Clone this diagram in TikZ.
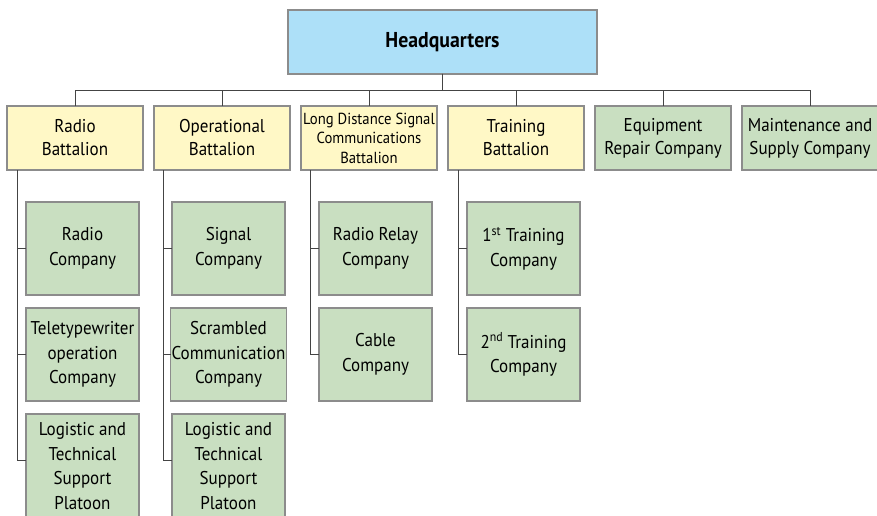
\documentclass[tikz,border=0pt]{standalone}
\usepackage{fontspec}
\setmainfont{PT Sans}[FakeStretch=0.92]
\usetikzlibrary{positioning}
\definecolor{hqblue}{HTML}{ADE0F8}
\definecolor{batyellow}{HTML}{FFF8C6}
\definecolor{coygreen}{HTML}{C9DFC1}
\definecolor{boxgray}{HTML}{8C8C8C}
\definecolor{linegray}{HTML}{444444}

\begin{document}
\begin{tikzpicture}[
  x=1pt, y=1pt,
  every node/.style={rectangle, draw=boxgray, line width=1.3pt, align=center, inner sep=1pt, outer sep=0pt,
    font=\fontsize{18.5}{23}\selectfont},
  hqbox/.style={fill=hqblue, minimum width=309pt, minimum height=64pt, font=\fontsize{21.5}{24}\selectfont\bfseries},
  battalion/.style={fill=batyellow, minimum width=136pt, minimum height=64pt},
  unit/.style={fill=coygreen, minimum width=136pt, minimum height=64pt},
  company/.style={fill=coygreen, minimum width=113pt, minimum height=93pt, font=\fontsize{18.5}{24.5}\selectfont},
  platoon/.style={company, minimum height=104pt},
  link/.style={draw=linegray, line width=0.8pt}
]

\useasboundingbox (0,0) rectangle (877,-516);
\clip (0,0) rectangle (877,-516);

% Headquarters
\node[hqbox] (hq) at (442.5,-42) {Headquarters};

% Battalions and companies under HQ
\node[battalion] (radio) at (75,-138) {Radio\\Battalion};
\node[battalion, right=11pt of radio] (operational) {Operational\\Battalion};
\node[battalion, right=11pt of operational, font=\fontsize{16}{19.5}\selectfont] (longdistance) {Long Distance Signal\\Communications\\Battalion};
\node[battalion, right=11pt of longdistance] (training) {Training\\Battalion};
\node[unit, right=11pt of training] (repair) {Equipment\\Repair Company};
\node[unit, right=11pt of repair] (maintenance) {Maintenance and\\Supply Company};

% Radio Battalion companies
\node[company, below right=32pt and 19pt of radio.south west] (radiocoy) {Radio\\Company};
\node[company, below=13pt of radiocoy] (teletype) {Teletypewriter\\operation\\Company};
\node[platoon, below=13pt of teletype, anchor=north] (radiolog) {Logistic and\\Technical\\Support\\Platoon};

% Operational Battalion companies
\node[company, below right=32pt and 18pt of operational.south west] (signal) {Signal\\Company};
\node[company, below=13pt of signal] (scrambled) {Scrambled\\Communication\\Company};
\node[platoon, below=13pt of scrambled, anchor=north] (oplog) {Logistic and\\Technical\\Support\\Platoon};

% Long Distance Signal Communications Battalion companies
\node[company, below right=32pt and 18pt of longdistance.south west] (relay) {Radio Relay\\Company};
\node[company, below=13pt of relay] (cable) {Cable\\Company};

% Training Battalion companies
\node[company, below right=32pt and 19pt of training.south west] (firsttr) {1\textsuperscript{st} Training\\Company};
\node[company, below=13pt of firsttr] (secondtr) {2\textsuperscript{nd} Training\\Company};

% HQ bus
\coordinate (bus) at ([yshift=-16pt]hq.south);
\foreach \b in {radio, operational, longdistance, training, repair, maintenance}
  \draw[link] (hq.south) -- (bus) -| (\b.north);

% Battalion trunks
\coordinate (radio-t) at ([xshift=10pt]radio.south west);
\coordinate (operational-t) at ([xshift=9pt]operational.south west);
\coordinate (longdistance-t) at ([xshift=9pt]longdistance.south west);
\coordinate (training-t) at ([xshift=10pt]training.south west);

\foreach \t/\c in {radio/radiocoy, radio/teletype, operational/signal, operational/scrambled,
                   longdistance/relay, longdistance/cable, training/firsttr, training/secondtr}
  \draw[link] (\t-t) |- (\c.west);
\draw[link] (radio-t) |- ([yshift=6pt]radiolog.west);
\draw[link] (operational-t) |- ([yshift=6pt]oplog.west);

\end{tikzpicture}
\end{document}
